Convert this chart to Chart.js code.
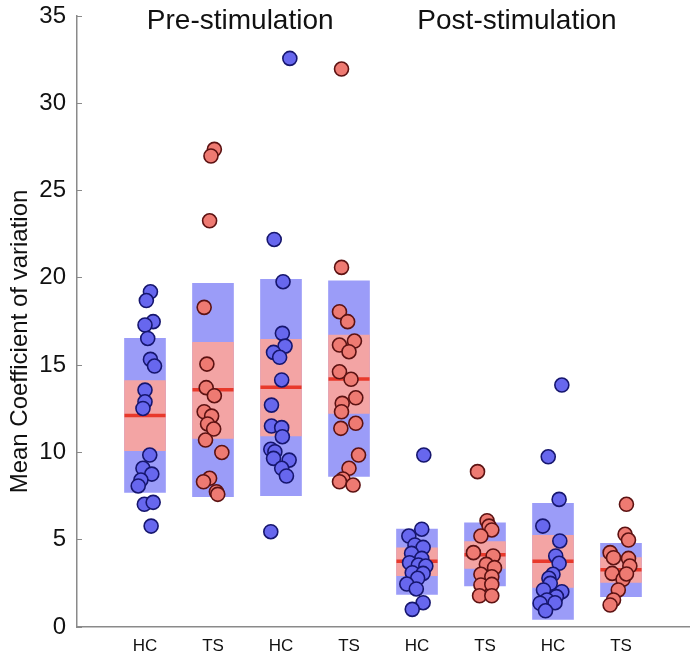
<!DOCTYPE html>
<html><head><meta charset="utf-8">
<script src="https://cdn.jsdelivr.net/npm/chart.js@4"></script>
<style>html,body{margin:0;padding:0;background:#fff}#wrap{width:692px;height:656px}</style>
</head><body><div id="wrap"><canvas id="c"></canvas></div>
<script>
const categories = ['HC','TS','HC','TS','HC','TS','HC','TS'];
const groupTitles = ['Pre-stimulation','Post-stimulation'];
const groupTitleX = [2.40, 6.47];
const yTitle = 'Mean Coefficient of variation';
const yTicks = [0,5,10,15,20,25,30,35];

const means  = [12.12, 13.59, 13.73, 14.20, 3.76, 4.14, 3.76, 3.28];
const sdLow  = [7.71, 7.46, 7.52, 8.63, 1.87, 2.35, 0.44, 1.74];
const sdHigh = [16.53, 19.68, 19.91, 19.83, 5.61, 5.97, 7.08, 4.79];
const ciLow  = [10.10, 10.80, 10.94, 12.24, 2.94, 3.36, 2.27, 2.56];
const ciHigh = [14.11, 16.30, 16.48, 16.72, 4.54, 4.89, 5.25, 3.97];

const pointValues = [
  [19.2,18.7,17.49,17.3,16.53,15.33,14.95,13.57,12.9,12.52,9.85,9.09,8.76,8.42,8.08,7.03,7.14,5.78],
  [27.36,26.98,23.27,18.31,15.06,13.71,13.25,12.33,12.08,11.63,11.34,10.71,10.0,8.52,8.32,7.75,7.6],
  [32.57,22.2,19.78,16.82,16.09,15.73,15.45,14.15,12.71,11.51,11.42,10.9,10.18,10.04,9.66,9.56,9.09,8.65,5.46],
  [31.96,20.6,18.06,17.49,16.38,16.15,15.77,14.62,14.19,13.13,12.81,12.33,11.67,11.38,9.85,9.09,8.48,8.32,8.13],
  [9.85,5.6,5.21,4.7,4.56,4.22,3.93,3.68,3.55,3.49,3.11,3.07,2.79,2.46,2.18,1.39,1.01],
  [8.9,6.09,5.78,5.56,5.21,4.26,4.07,3.59,3.4,3.02,2.88,2.41,2.44,1.79,1.79],
  [13.86,9.75,7.31,5.78,4.93,4.07,3.65,3.02,2.79,2.5,2.12,2.02,1.74,1.55,1.36,1.39,0.93],
  [7.03,5.31,4.98,4.26,3.97,3.93,3.49,3.07,2.73,2.12,1.55,1.26,3.04]
];
const pointJitter = [
  [.08,.02,.12,.00,.04,.08,.14,.00,.00,-.03,.07,-.03,.10,-.06,-.10,-.01,.12,.09],
  [.02,-.03,-.05,-.13,-.09,-.10,.02,-.13,-.02,-.08,.01,-.11,.13,-.05,-.14,.05,.07],
  [.13,-.10,.03,.02,.06,-.11,-.02,.01,-.14,-.14,.01,.02,-.15,-.09,-.11,.12,.01,.08,-.15],
  [-.11,-.11,-.14,-.02,.08,-.14,.00,-.14,.03,.10,-.10,-.11,.10,-.12,.14,.00,-.09,-.14,.06],
  [.10,.07,-.12,-.03,.09,-.08,.07,-.11,.02,.13,-.07,.09,.01,-.15,-.01,.09,-.07],
  [-.11,.03,.06,.10,-.06,-.17,.12,.02,.14,-.06,.10,-.06,.10,-.08,.10],
  [.13,-.07,.09,-.15,.10,.04,.09,.00,-.06,-.04,-.14,.13,.05,-.09,-.19,.03,-.11],
  [.08,.06,.11,-.16,-.11,.11,.13,-.13,.03,-.04,-.11,-.16,.08]
];

const FONT = "'Liberation Sans', Arial, Helvetica, sans-serif";

function pointsFor(label) {
  const out = [];
  categories.forEach((c, i) => {
    if (c !== label) return;
    pointValues[i].forEach((v, j) => out.push({x: i + 1 + pointJitter[i][j], y: v}));
  });
  return out;
}

const textPlugin = {
  id: 'groupTitles',
  afterDatasetsDraw(chart) {
    const {ctx, scales: {x}, chartArea} = chart;
    ctx.save();
    ctx.fillStyle = '#111';
    ctx.font = '28px ' + FONT;
    ctx.textAlign = 'center';
    ctx.textBaseline = 'alphabetic';
    groupTitles.forEach((t, i) => ctx.fillText(t, x.getPixelForValue(groupTitleX[i]), chartArea.top + 13));
    // y-axis title (rotated)
    ctx.font = '24px ' + FONT;
    ctx.translate(20, (chartArea.top + chartArea.bottom) / 2 + 20);
    ctx.rotate(-Math.PI / 2);
    ctx.textBaseline = 'middle';
    ctx.fillText(yTitle, 0, 0);
    ctx.restore();
  }
};

new Chart(document.getElementById('c'), {
  type: 'bar',
  data: {
    datasets: [
      { type: 'scatter', label: 'HC', data: pointsFor('HC'), order: 0,
        pointRadius: 7, pointHoverRadius: 7, pointBackgroundColor: '#6767ee', pointBorderColor: '#16166e', pointBorderWidth: 1.6 },
      { type: 'scatter', label: 'TS', data: pointsFor('TS'), order: 0,
        pointRadius: 7, pointHoverRadius: 7, pointBackgroundColor: '#ee7a72', pointBorderColor: '#5c1212', pointBorderWidth: 1.6 },
      { type: 'scatter', label: 'Mean', data: means.map((m, i) => ({x: i + 1, y: m})), order: 1,
        pointStyle: 'line', pointRadius: 20.5, pointHoverRadius: 20.5, pointBorderColor: '#e8392b', pointBorderWidth: 3.5 },
      { type: 'bar', label: 'Inner', data: ciLow.map((l, i) => ({x: i + 1, y: [l, ciHigh[i]]})), order: 2,
        backgroundColor: '#f3a4a4', barThickness: 41, grouped: false },
      { type: 'bar', label: 'Outer', data: sdLow.map((l, i) => ({x: i + 1, y: [l, sdHigh[i]]})), order: 3,
        backgroundColor: '#9b9cf8', barThickness: 41, grouped: false }
    ]
  },
  options: {
    responsive: true, maintainAspectRatio: false, animation: false, devicePixelRatio: 1,
    layout: { autoPadding: false, padding: { left: 0, right: 3, top: 16, bottom: 0 } },
    plugins: { legend: { display: false }, tooltip: { enabled: false }, title: { display: false } },
    scales: {
      x: {
        type: 'linear', min: 0, max: 9, offset: false,
        grid: { display: false, drawTicks: false },
        border: { display: true, color: '#8a8a8a', width: 1.5 },
        ticks: { stepSize: 1, autoSkip: false, maxRotation: 0, padding: 9, color: '#111',
          font: { family: FONT, size: 17 },
          callback: (v) => (v >= 1 && v <= categories.length) ? categories[v - 1] : '' },
        afterFit: (s) => { s.height = 29; s.paddingLeft = 0; s.paddingRight = 0; }
      },
      y: {
        min: 0, max: 35,
        afterBuildTicks: (s) => { s.ticks = yTicks.map(v => ({value: v})); },
        grid: { display: true, drawOnChartArea: false, drawTicks: true, tickLength: -5, color: '#8a8a8a', lineWidth: 1 },
        border: { display: true, color: '#8a8a8a', width: 1.5 },
        ticks: { padding: 16, color: '#111', font: { family: FONT, size: 24 } },
        title: { display: false },
        afterFit: (s) => { s.width = 77; s.paddingTop = 0; s.paddingBottom = 0; }
      }
    }
  },
  plugins: [textPlugin]
});
</script>
</body></html>
